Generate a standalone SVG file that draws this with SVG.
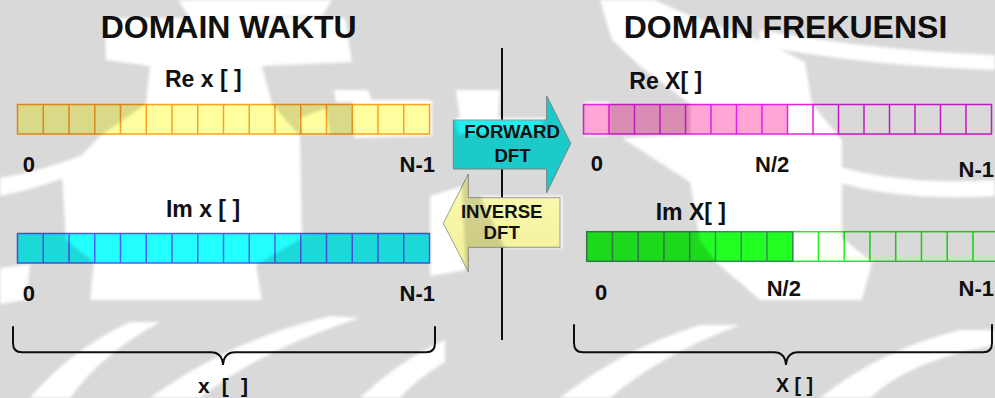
<svg xmlns="http://www.w3.org/2000/svg" width="995" height="398" viewBox="0 0 995 398">
  <style>
    text { font-family: "Liberation Sans", Arial, sans-serif; font-weight: bold; fill: #111; }
    .title { font-size: 32px; text-anchor: middle; }
    .lbl { font-size: 23px; }
    .idx { font-size: 22px; }
    .arrow-txt { font-size: 18.6px; text-anchor: middle; }
    .cell { stroke-width: 1.5; }
    .brace { fill: none; stroke: #111; stroke-width: 2; stroke-linecap: round; }
    .divider { stroke: #111; stroke-width: 2; }
  </style>
  <defs>
    <linearGradient id="inv-fill" x1="0" y1="0" x2="0" y2="1">
      <stop offset="0" stop-color="#fbfbb0"/>
      <stop offset="1" stop-color="#f0f09a"/>
    </linearGradient>
    <filter id="soft" x="-5%" y="-5%" width="110%" height="110%">
      <feGaussianBlur stdDeviation="1.6"/>
    </filter>
    <!-- light areas of the background watermark -->
    <mask id="wm-mask" maskUnits="userSpaceOnUse" x="0" y="0" width="995" height="398">
      <rect width="995" height="398" fill="#fff"/>
      <g fill="#000" filter="url(#soft)">
        <path d="M105,18 L345,18 L352,62 L262,66 L272,104 L300,136 L302,238 L256,265 L262,300 L90,300 L94,262 L66,240 L62,176 L100,136 L146,104 L150,66 L106,60 Z"/>
        <path d="M0,178 Q60,168 120,138 L132,146 Q70,182 0,196 Z"/>
        <path d="M178,0 L332,0 L322,16 L190,18 Z"/>
        <path d="M334,90 L368,90 L372,102 L336,102 Z"/>
        <path d="M300,118 L326,108 L330,134 L302,134 Z"/>
        <path d="M352,100 L432,100 L432,136 L354,138 Z"/>
        <path d="M0,268 L30,264 L26,300 L0,304 Z"/>
        <path d="M30,398 Q70,350 130,322 L160,322 Q100,355 70,398 Z"/>
        <path d="M150,398 Q230,340 330,316 L360,318 Q260,350 200,398 Z"/>
        <path d="M360,398 Q400,360 445,340 L445,362 Q415,380 400,398 Z"/>
        <path d="M456,90 L500,90 L498,120 L460,120 Z"/>
        <path d="M430,196 L462,186 L466,270 L430,276 Z"/>
        <path d="M480,196 L562,196 L562,248 L505,248 Z"/>
        <path d="M455,118 L545,118 L540,132 L458,134 Z"/>
        <path d="M584,102 L609,102 L609,136 L584,136 Z"/>
        <path d="M600,0 L655,0 Q700,22 760,40 L805,62 L812,104 L842,140 L842,238 L872,262 L862,300 L760,300 L716,262 L700,240 L690,182 L622,138 L690,134 L690,104 L640,66 L612,40 Z"/>
        <path d="M760,30 Q870,50 995,55 L995,70 Q870,66 760,46 Z"/>
        <path d="M830,164 Q900,186 995,180 L995,196 Q900,202 830,180 Z"/>
        <path d="M560,398 Q620,350 700,325 L740,325 Q660,355 610,398 Z"/>
        <path d="M820,398 Q880,350 960,330 L995,330 L995,345 Q910,360 870,398 Z"/>
      </g>
    </mask>
  </defs>

  <rect width="995" height="398" fill="#fff"/>

  <!-- centre divider -->
  <g id="connectors">
    <line class="divider" x1="502" y1="48" x2="502" y2="340"/>
  </g>

  <!-- headings -->
  <g id="title-time">
    <text class="title" x="228.7" y="37.5">DOMAIN WAKTU</text>
  </g>
  <g id="title-freq">
    <text class="title" x="785.5" y="38.3">DOMAIN FREKUENSI</text>
  </g>

  <!-- time domain, real part -->
  <g id="re-x">
    <text class="lbl" x="203.3" y="87.3" text-anchor="middle">Re x [ ]</text>
    <rect class="cell" x="17.5" y="104.5" width="412" height="29.5" fill="#ffffa0" stroke="#ffa020"/>
    <path class="cell" fill="none" stroke="#ffa020" d="M43.25,104.5V134M69,104.5V134M94.75,104.5V134M120.5,104.5V134M146.25,104.5V134M172,104.5V134M197.75,104.5V134M223.5,104.5V134M249.25,104.5V134M275,104.5V134M300.75,104.5V134M326.5,104.5V134M352.25,104.5V134M378,104.5V134M403.75,104.5V134"/>
    <text class="idx" x="22.7" y="171.7">0</text>
    <text class="idx" x="435" y="171.5" text-anchor="end">N-1</text>
  </g>

  <!-- time domain, imaginary part -->
  <g id="im-x">
    <text class="lbl" x="203" y="217.3" text-anchor="middle">Im x [ ]</text>
    <rect class="cell" x="17.5" y="233.5" width="412" height="29.5" fill="#22ffff" stroke="#4d5dff"/>
    <path class="cell" fill="none" stroke="#4d5dff" d="M43.25,233.5V263M69,233.5V263M94.75,233.5V263M120.5,233.5V263M146.25,233.5V263M172,233.5V263M197.75,233.5V263M223.5,233.5V263M249.25,233.5V263M275,233.5V263M300.75,233.5V263M326.5,233.5V263M352.25,233.5V263M378,233.5V263M403.75,233.5V263"/>
    <text class="idx" x="22.7" y="300.7">0</text>
    <text class="idx" x="435" y="300.7" text-anchor="end">N-1</text>
  </g>

  <!-- frequency domain, real part -->
  <g id="re-X">
    <text class="lbl" x="629.3" y="89.3">Re X[ ]</text>
    <rect x="583.5" y="104.5" width="204" height="29.5" fill="#ffa6d4"/>
    <rect class="cell" x="583.5" y="104.5" width="408" height="29.5" fill="none" stroke="#e61ee6"/>
    <path class="cell" fill="none" stroke="#e61ee6" d="M609,104.5V134M634.5,104.5V134M660,104.5V134M685.5,104.5V134M711,104.5V134M736.5,104.5V134M762,104.5V134M787.5,104.5V134M813,104.5V134M838.5,104.5V134M864,104.5V134M889.5,104.5V134M915,104.5V134M940.5,104.5V134M966,104.5V134"/>
    <text class="idx" x="590.7" y="171">0</text>
    <text class="idx" x="755" y="172.3">N/2</text>
    <text class="idx" x="994" y="176.7" text-anchor="end">N-1</text>
  </g>

  <!-- frequency domain, imaginary part -->
  <g id="im-X">
    <text class="lbl" x="655.7" y="220">Im X[ ]</text>
    <rect class="cell" x="792.7" y="231.7" width="206" height="29.6" fill="none" stroke="#22ee22"/>
    <path class="cell" fill="none" stroke="#22ee22" d="M818.45,231.7V261.3M844.2,231.7V261.3M869.95,231.7V261.3M895.7,231.7V261.3M921.45,231.7V261.3M947.2,231.7V261.3M972.95,231.7V261.3"/>
    <rect class="cell" x="586.7" y="231.7" width="206" height="29.6" fill="#22ff22" stroke="#3a8a55"/>
    <path class="cell" fill="none" stroke="#3a8a55" d="M612.45,231.7V261.3M638.2,231.7V261.3M663.95,231.7V261.3M689.7,231.7V261.3M715.45,231.7V261.3M741.2,231.7V261.3M766.95,231.7V261.3"/>
    <text class="idx" x="595" y="299.5">0</text>
    <text class="idx" x="766.7" y="296">N/2</text>
    <text class="idx" x="994" y="296" text-anchor="end">N-1</text>
  </g>

  <!-- transform arrows -->
  <g id="forward-dft">
    <polygon points="453.3,120 546.7,120 546.7,96 570.7,143.3 546.7,192.7 546.7,169 453.3,169" fill="#22eeee" stroke="#8a9a9a" stroke-width="1"/>
    <text class="arrow-txt" x="512" y="138.3">FORWARD</text>
    <text class="arrow-txt" x="512.5" y="161.7">DFT</text>
  </g>
  <g id="inverse-dft">
    <polygon points="443.3,223.3 468.3,174 468.3,197.7 560,197.7 560,247.3 468.3,247.3 468.3,271.7" fill="url(#inv-fill)" stroke="#a0a090" stroke-width="1"/>
    <text class="arrow-txt" x="501.7" y="218.3">INVERSE</text>
    <text class="arrow-txt" x="501.7" y="239">DFT</text>
  </g>

  <!-- braces -->
  <g id="brace-time">
    <path class="brace" d="M13,327 V343 Q13,352.3 22,352.3 H211 Q222,352.3 223,365 Q224,352.3 235,352.3 H426 Q435,352.3 435,343 V327"/>
    <text x="198" y="393" font-size="21" textLength="50" lengthAdjust="spacing">x [ ]</text>
  </g>
  <g id="brace-freq">
    <path class="brace" d="M574,325 V343 Q574,352.3 583,352.3 H774 Q785,352.3 786,365 Q787,352.3 798,352.3 H983 Q992,352.3 992,343 V325"/>
    <text x="776" y="392" font-size="19.5" textLength="37" lengthAdjust="spacing">X [ ]</text>
  </g>

  <!-- watermark tint over the whole slide -->
  <g id="watermark">
    <rect width="995" height="398" fill="#000" fill-opacity="0.15" mask="url(#wm-mask)"/>
  </g>
</svg>
